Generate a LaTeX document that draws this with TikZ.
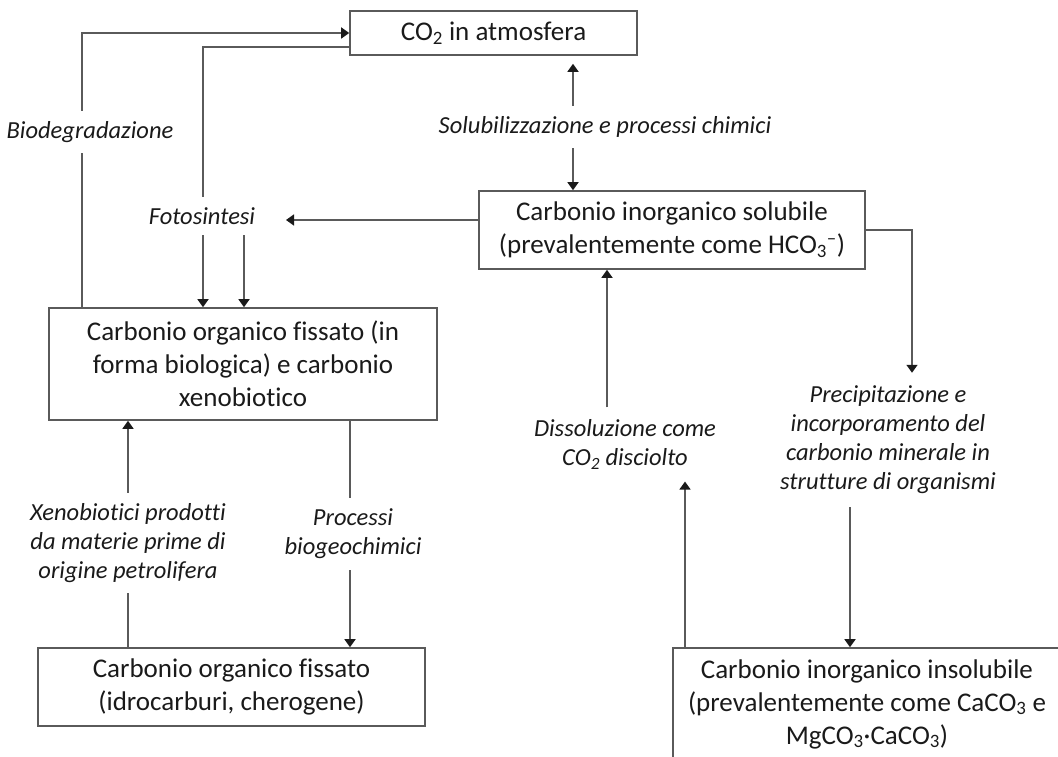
\documentclass[tikz,border=0pt]{standalone}
\usepackage{fontspec}
\setmainfont{Carlito}[Ligatures=NoCommon]
\usetikzlibrary{arrows.meta}
\definecolor{linea}{HTML}{5A5A5A}
\definecolor{punta}{HTML}{1A1A1A}
\definecolor{texto}{HTML}{1A1A1A}
\newcommand{\ssub}[1]{\textsubscript{#1}}
\newcommand{\ssup}[1]{\textsuperscript{#1}}
\tikzset{
	caja/.style={draw=linea, line width=1.6pt, text=texto, align=center, font=\fontsize{27}{33}\selectfont, inner sep=0pt},
	etiqueta/.style={text=texto, align=center, font=\fontsize{24.5}{29}\selectfont\itshape, inner xsep=3pt, inner ysep=10.5pt},
	conector/.style={draw=linea, line width=1.6pt},
	flecha/.style={conector, -{Triangle[width=11pt,length=8pt,color=punta,fill=punta]}}
}
\begin{document}
\begin{tikzpicture}[x=1pt, y=-1pt]
	\useasboundingbox (0,0) rectangle (1058,757);
	\clip (0,0) rectangle (1058,757);
	% cajas
	\node[caja, minimum width=287pt, minimum height=44pt] (atm) at (493.5,33) {CO\ssub{2} in atmosfera};
	\node[caja, minimum width=386pt, minimum height=78pt] (sol) at (672,230) {Carbonio inorganico solubile\\(prevalentemente come HCO\ssub{3}\ssup{--})};
	\node[caja, minimum width=388pt, minimum height=112pt] (org) at (243,364) {Carbonio organico fissato (in\\forma biologica) e carbonio\\xenobiotico};
	\node[caja, minimum width=387pt, minimum height=78pt] (fos) at (231.5,687) {Carbonio organico fissato\\(idrocarburi, cherogene)};
	\node[caja, minimum width=388pt, minimum height=112pt] (ins) at (867,704) {Carbonio inorganico insolubile\\(prevalentemente come CaCO\ssub{3} e\\MgCO\ssub{3}·CaCO\ssub{3})};
	% etiquetas
	\node[etiqueta] (biod) at (90,132) {Biodegradazione};
	\node[etiqueta] (foto) at (202,216) {Fotosintesi};
	\node[etiqueta] (solu) at (605,127) {Solubilizzazione e processi chimici};
	\node[etiqueta, inner ysep=12pt] (diss) at (625,444.5) {Dissoluzione come\\CO\ssub{2} disciolto};
	\node[etiqueta, inner ysep=13pt] (prec) at (888,440) {Precipitazione e\\incorporamento del\\carbonio minerale in\\strutture di organismi};
	\node[etiqueta] (xeno) at (128,543) {Xenobiotici prodotti\\da materie prime di\\origine petrolifera};
	\node[etiqueta, inner ysep=11pt] (proc) at (353,534) {Processi\\biogeochimici};
	% puntos de quiebre
	\coordinate (b1) at (82,33);
	\coordinate (f1) at (203,47);
	\coordinate (f2) at (244,235);
	\coordinate (fin) at (286,220);
	\coordinate (s1) at (573,0);
	\coordinate (p1) at (912,230);
	\coordinate (p2) at (850,0);
	\coordinate (d1) at (607,0);
	\coordinate (d2) at (685,0);
	\coordinate (q1) at (350,0);
	\coordinate (x1) at (128,0);
	% conectores
	\draw[conector] (org.north -| b1) -- (biod.south -| b1);
	\draw[flecha] (biod.north -| b1) -- (b1) -- (atm.west |- b1);
	\draw[conector] (atm.west |- f1) -- (f1) -- (foto.north -| f1);
	\draw[flecha] (foto.south -| f1) -- (org.north -| f1);
	\draw[flecha] (foto.south -| f2) -- (org.north -| f2);
	\draw[flecha] (sol.west |- fin) -- (fin);
	\draw[flecha, shorten >=8pt] (solu.north -| s1) -- (atm.south -| s1);
	\draw[flecha] (solu.south -| s1) -- (sol.north -| s1);
	\draw[flecha] (sol.east |- p1) -- (p1) -- (prec.north -| p1);
	\draw[flecha] (prec.south -| p2) -- (ins.north -| p2);
	\draw[flecha] (ins.north -| d2) -- (diss.south -| d2);
	\draw[flecha] (diss.north -| d1) -- (sol.south -| d1);
	\draw[conector] (org.south -| q1) -- (proc.north -| q1);
	\draw[flecha] (proc.south -| q1) -- (fos.north -| q1);
	\draw[conector] (fos.north -| x1) -- (xeno.south -| x1);
	\draw[flecha] (xeno.north -| x1) -- (org.south -| x1);
\end{tikzpicture}
\end{document}
